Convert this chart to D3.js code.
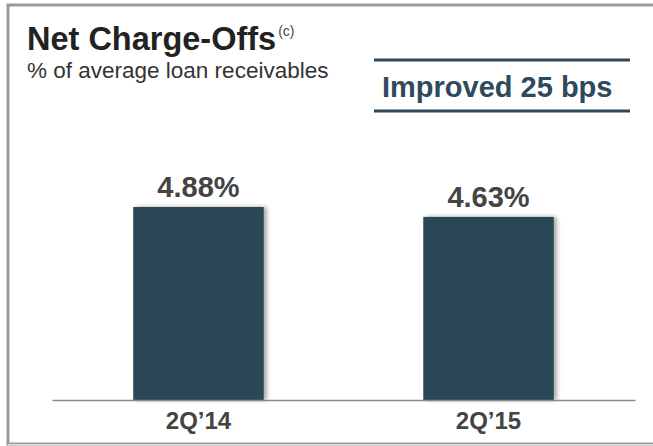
<!DOCTYPE html>
<html><head><meta charset="utf-8">
<script src="https://cdn.jsdelivr.net/npm/d3@7"></script>
<style>body{margin:0;background:#fff}svg{display:block}</style>
</head><body>
<script>
const categories = ["2Q\u201914", "2Q\u201915"];
const values = [4.88, 4.63];
const valueLabels = ["4.88%", "4.63%"];
const title = "Net Charge-Offs";
const subtitle = "% of average loan receivables";
const callout = "Improved 25 bps";

const W = 653, H = 446;
const svg = d3.select("body").append("svg").attr("width", W).attr("height", H);
const font = "Liberation Sans, Arial, sans-serif";

const defs = svg.append("defs");
const f = defs.append("filter").attr("id","sh").attr("x","-10%").attr("y","-10%").attr("width","130%").attr("height","120%");
f.append("feDropShadow").attr("dx",3).attr("dy",0).attr("stdDeviation",2).attr("flood-color","#000").attr("flood-opacity",0.35);

// frame
svg.append("rect").attr("x",8).attr("y",5).attr("width",W+10).attr("height",439)
  .attr("fill","none").attr("stroke","#9a9a9a").attr("stroke-width",3);
svg.append("line").attr("x1",8).attr("x2",W).attr("y1",444.5).attr("y2",444.5).attr("stroke","#ddd").attr("stroke-width",1);

const x = d3.scaleBand().domain(categories).range([52, 635]).paddingInner(0.55).paddingOuter(0.28);
const y = d3.scaleLinear().domain([0, 10]).range([400, 4.5]);

svg.selectAll("rect.bar").data(values).enter().append("rect").attr("class","bar")
  .attr("x",(d,i)=>x(categories[i])).attr("width",x.bandwidth())
  .attr("y",d=>y(d)).attr("height",d=>y(0)-y(d))
  .attr("fill","#2c4657").attr("filter","url(#sh)");

const axis = d3.axisBottom(x).tickSize(0).tickPadding(12);
const gx = svg.append("g").attr("transform",`translate(0,${y(0)})`).call(axis);
gx.select(".domain").attr("stroke","#8a8a8a").attr("stroke-width",1.5);
gx.selectAll("text").attr("font-family",font).attr("font-size",24).attr("font-weight","bold").attr("fill","#444")
  .attr("dy","0.71em").attr("y",12);

svg.selectAll("text.val").data(values).enter().append("text").attr("class","val")
  .attr("x",(d,i)=>x(categories[i])+x.bandwidth()/2).attr("y",d=>y(d)-10)
  .attr("text-anchor","middle").attr("font-family",font).attr("font-size",29).attr("font-weight","bold")
  .attr("fill","#444").text((d,i)=>valueLabels[i]);

const t = svg.append("text").attr("x",27).attr("y",50).attr("font-family",font).attr("font-size",32.5)
  .attr("font-weight","bold").attr("fill","#222").text(title);
t.append("tspan").attr("font-size",14).attr("font-weight","normal").attr("dy",-14).attr("dx",2).attr("fill","#444").text("(c)");
svg.append("text").attr("x",27).attr("y",78).attr("font-family",font).attr("font-size",22.5)
  .attr("fill","#333").text(subtitle);

svg.append("line").attr("x1",374).attr("x2",630).attr("y1",60).attr("y2",60).attr("stroke","#2d4a5a").attr("stroke-width",3);
svg.append("line").attr("x1",374).attr("x2",630).attr("y1",111).attr("y2",111).attr("stroke","#2d4a5a").attr("stroke-width",3);
svg.append("text").attr("x",382).attr("y",97).attr("font-family",font).attr("font-size",29)
  .attr("font-weight","bold").attr("fill","#2e4a5c").text(callout);
</script>
</body></html>
